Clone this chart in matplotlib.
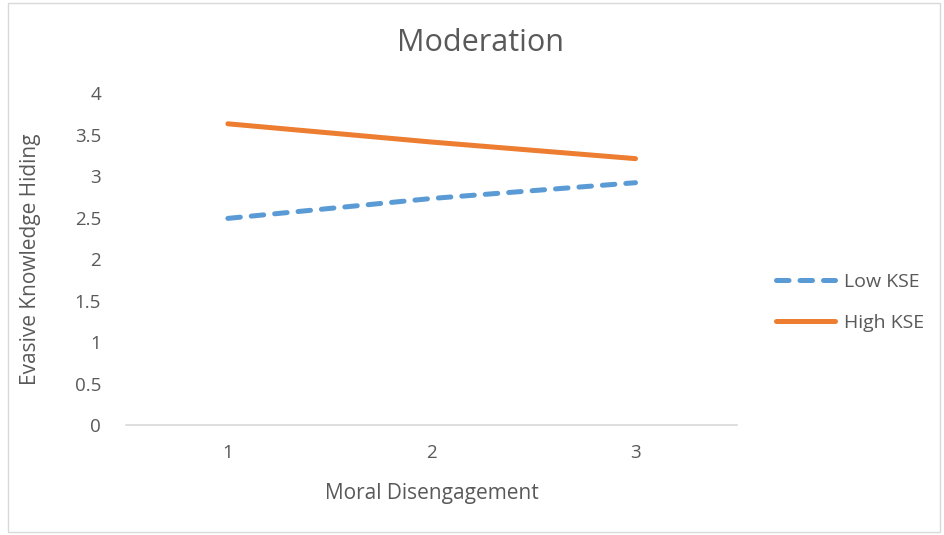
import matplotlib.pyplot as plt
from matplotlib.patches import Rectangle

# data
moral_diseng = [1, 2, 3]
low_kse = [2.49, 2.73, 2.92]
high_kse = [3.63, 3.41, 3.21]
y_ticks = [0, 0.5, 1, 1.5, 2, 2.5, 3, 3.5, 4]
y_tick_labels = ['0', '0.5', '1', '1.5', '2', '2.5', '3', '3.5', '4']

plt.rcParams['font.family'] = ['Open Sans', 'DejaVu Sans']
txt = '#595959'

fig = plt.figure(figsize=(9.45, 5.35), dpi=100)
fig.patches.append(Rectangle((8 / 945, 3 / 535), 932 / 945, 529 / 535,
                             transform=fig.transFigure, fill=False,
                             edgecolor='#d9d9d9', linewidth=1))

ax = fig.add_axes([0.1333, 0.2056, 0.647, 0.6204])
ax.plot(moral_diseng, low_kse, color='#5b9bd5', linewidth=3.6,
        linestyle=(0, (2.5, 2.2)), dash_capstyle='round', label='Low KSE')
ax.plot(moral_diseng, high_kse, color='#ed7d31', linewidth=3.6,
        solid_capstyle='round', label='High KSE')

ax.set_xlim(0.5, 3.5)
ax.set_ylim(0, 4)
ax.set_xticks(moral_diseng)
ax.set_xticklabels([str(v) for v in moral_diseng])
ax.set_yticks(y_ticks)
ax.set_yticklabels(y_tick_labels)
ax.tick_params(length=0, labelsize=13.5, colors=txt)
ax.tick_params(axis='x', pad=14)
ax.tick_params(axis='y', pad=18)

for s in ['top', 'right', 'left']:
    ax.spines[s].set_visible(False)
ax.spines['bottom'].set_color('#d9d9d9')
ax.spines['bottom'].set_linewidth(1.2)

fig.text(481 / 945, 1 - 43 / 535, 'Moderation', fontsize=22, color=txt,
         ha='center', va='center')
ax.set_xlabel('Moral Disengagement', fontsize=15, color=txt, labelpad=15)
ax.set_ylabel('Evasive Knowledge Hiding', fontsize=15, color=txt, labelpad=24)

leg = ax.legend(loc='center left', bbox_to_anchor=(1.035, 0.37), frameon=False,
                fontsize=14, handlelength=3.0, labelspacing=1.2, handletextpad=0.5)
for t in leg.get_texts():
    t.set_color(txt)

fig.savefig('out.png', dpi=100)
